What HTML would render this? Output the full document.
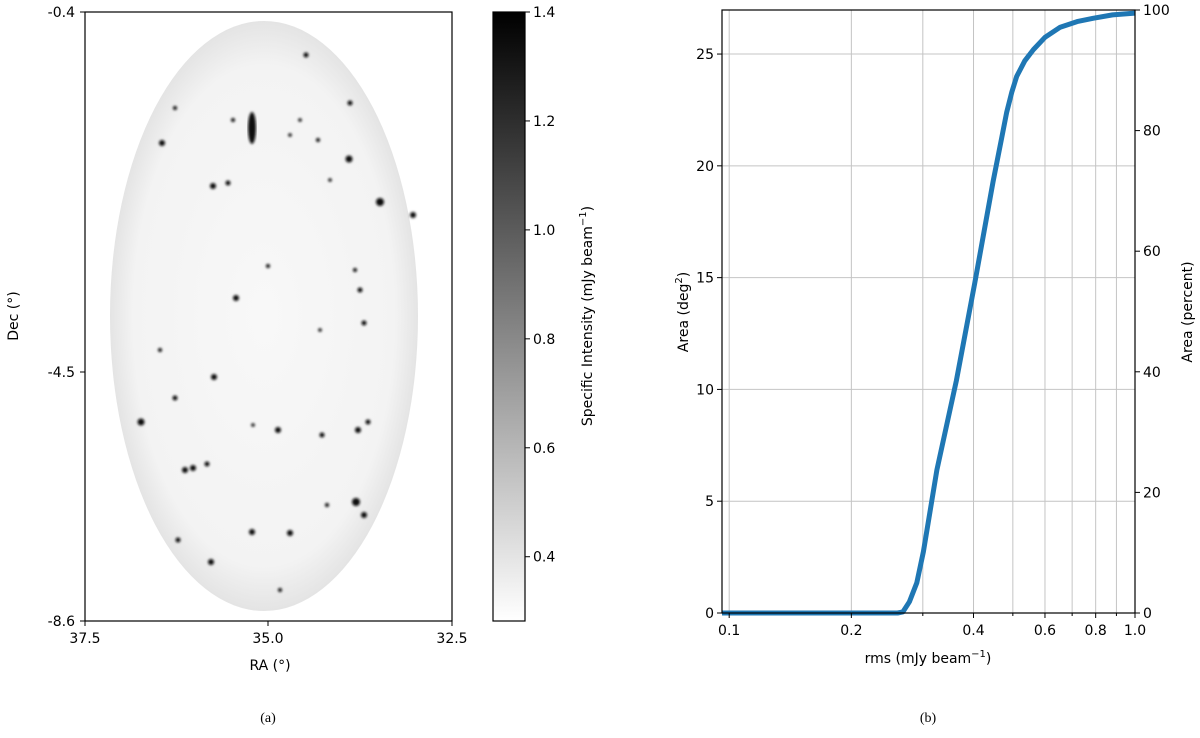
<!DOCTYPE html>
<html><head><meta charset="utf-8"><style>
body{margin:0;background:#fff;}
svg{display:block;font-family:"DejaVu Sans","Liberation Sans",sans-serif;}
</style></head><body>
<svg id="fig" width="1200" height="738" viewBox="0 0 1200 738">
<defs>
<linearGradient id="cbar" x1="0" y1="1" x2="0" y2="0">
<stop offset="0" stop-color="#ffffff"/><stop offset="1" stop-color="#000000"/>
</linearGradient>
<radialGradient id="ell" cx="0.5" cy="0.5" r="0.5">
<stop offset="0" stop-color="#f8f8f8"/><stop offset="0.85" stop-color="#f3f3f3"/><stop offset="1" stop-color="#e4e4e4"/>
</radialGradient>
<filter id="blur"><feGaussianBlur stdDeviation="1.2"/></filter>
</defs>
<g id="left">
<ellipse cx="264" cy="316" rx="154" ry="295" fill="url(#ell)"/>
<g id="dots" filter="url(#blur)"></g>
<ellipse cx="252" cy="128" rx="4" ry="16" fill="#111" filter="url(#blur)"/>
<rect x="85" y="12" width="367" height="609" fill="none" stroke="#000" stroke-width="1.2"/>
<g font-size="14" fill="#000">
<text x="75" y="17" text-anchor="end">-0.4</text>
<text x="75" y="377" text-anchor="end">-4.5</text>
<text x="75" y="626" text-anchor="end">-8.6</text>
<line x1="80" y1="12" x2="85" y2="12" stroke="#000"/><line x1="80" y1="372" x2="85" y2="372" stroke="#000"/><line x1="80" y1="621" x2="85" y2="621" stroke="#000"/>
<line x1="85" y1="621" x2="85" y2="626" stroke="#000"/><line x1="268" y1="621" x2="268" y2="626" stroke="#000"/><line x1="452" y1="621" x2="452" y2="626" stroke="#000"/>
<text x="85" y="643" text-anchor="middle">37.5</text>
<text x="268" y="643" text-anchor="middle">35.0</text>
<text x="452" y="643" text-anchor="middle">32.5</text>
<text x="270" y="670" text-anchor="middle">RA (°)</text>
<text transform="translate(18,316) rotate(-90)" text-anchor="middle">Dec (°)</text>
</g>
<rect x="493" y="12" width="32" height="609" fill="url(#cbar)" stroke="#000" stroke-width="1.2"/>
<g id="cbticks" font-size="14"></g>
<text transform="translate(592,316) rotate(-90)" text-anchor="middle" font-size="14">Specific Intensity (mJy beam<tspan dy="-6" font-size="10">−1</tspan><tspan dy="6">)</tspan></text>
<text x="268" y="722" text-anchor="middle" font-size="14" font-family="'Liberation Serif',serif">(a)</text>
</g>
<g id="right">
<g id="grid"></g>
<path id="curve" fill="none" stroke="#1f77b4" stroke-width="5" stroke-linejoin="round"/>
<rect x="722" y="10" width="413" height="603" fill="none" stroke="#000" stroke-width="1.2"/>
<g id="axes" font-size="14"></g>
<text x="928" y="663" text-anchor="middle" font-size="14">rms (mJy beam<tspan dy="-6" font-size="10">−1</tspan><tspan dy="6">)</tspan></text>
<text transform="translate(688,312) rotate(-90)" text-anchor="middle" font-size="14">Area (deg<tspan dy="-6" font-size="10">2</tspan><tspan dy="6">)</tspan></text>
<text transform="translate(1192,312) rotate(-90)" text-anchor="middle" font-size="14">Area (percent)</text>
<text x="928" y="722" text-anchor="middle" font-size="14" font-family="'Liberation Serif',serif">(b)</text>
</g>
</svg>
<script>
const rmsValues=[0.096,0.2,0.26,0.268,0.278,0.29,0.301,0.325,0.363,0.403,0.447,0.47,0.483,0.497,0.511,0.535,0.562,0.6,0.654,0.72,0.788,0.88,1.0];
const areaValues=[0,0,0,0.05,0.5,1.35,2.74,6.4,10.4,14.77,19.3,21.3,22.4,23.3,24.0,24.7,25.2,25.75,26.2,26.45,26.6,26.75,26.83];
const leftTicks=[0,5,10,15,20,25];
const rightTicks=[0,20,40,60,80,100];
const xMajorTicks=[0.1,0.2,0.4,0.6,0.8,1.0];
const xGridTicks=[0.1,0.2,0.3,0.4,0.5,0.6,0.7,0.8,0.9,1.0];
const cbarTicks=[0.4,0.6,0.8,1.0,1.2,1.4];
const NS='http://www.w3.org/2000/svg';
const X0=722,X1=1135,Y0=613,Y1=10,XMIN=0.096,XMAX=1.0,YMAX=26.97;
function xs(v){return X0+(Math.log10(v)-Math.log10(XMIN))/(Math.log10(XMAX)-Math.log10(XMIN))*(X1-X0);}
function ys(v){return Y0-v/YMAX*(Y0-Y1);}
function yp(p){return ys(p/100*YMAX);}
function mk(tag,attrs,parent){const e=document.createElementNS(NS,tag);for(const k in attrs)e.setAttribute(k,attrs[k]);parent.appendChild(e);return e;}
const grid=document.getElementById('grid'),axes=document.getElementById('axes');
xGridTicks.forEach(v=>{const l=mk('line',{x1:xs(v),x2:xs(v),y1:Y1,y2:Y0,stroke:'#c4c4c4','stroke-width':1},grid);


mk('line',{x1:xs(v),x2:xs(v),y1:Y0,y2:Y0+(xMajorTicks.includes(v)?5:3),stroke:'#000'},axes);});
leftTicks.forEach(v=>{const l=mk('line',{x1:X0,x2:X1,y1:ys(v),y2:ys(v),stroke:'#c4c4c4','stroke-width':1},grid);


mk('line',{x1:X0-5,x2:X0,y1:ys(v),y2:ys(v),stroke:'#000'},axes);
const t=mk('text',{x:X0-8,y:ys(v)+5,'text-anchor':'end'},axes);t.textContent=v;

});
rightTicks.forEach(v=>{mk('line',{x1:X1,x2:X1+5,y1:yp(v),y2:yp(v),stroke:'#000'},axes);
const t=mk('text',{x:X1+8,y:yp(v)+5,'text-anchor':'start'},axes);t.textContent=v;

});
xMajorTicks.forEach(v=>{const t=mk('text',{x:xs(v),y:Y0+22,'text-anchor':'middle'},axes);t.textContent=v.toFixed(1);

});
document.getElementById('curve').setAttribute('d',rmsValues.map((v,i)=>(i?'L':'M')+xs(v).toFixed(1)+','+ys(areaValues[i]).toFixed(1)).join(' '));
const CB0=621,CBMIN=0.282,CBMAX=1.4,cb=document.getElementById('cbticks');
function cy(v){return CB0-(v-CBMIN)/(CBMAX-CBMIN)*(621-12);}
cbarTicks.forEach(v=>{mk('line',{x1:525,x2:530,y1:cy(v),y2:cy(v),stroke:'#000'},cb);
const t=mk('text',{x:533,y:cy(v)+5},cb);t.textContent=v.toFixed(1);

});
const srcX=[162,213,228,349,380,413,185,175,141,236,214,278,193,207,322,358,368,356,290,252,211,178,306,350,360,364,160,327,280,355,175,233,268,318,364,290,320,253,330,300];
const srcY=[143,186,183,159,202,215,470,398,422,298,377,430,468,464,435,430,422,502,533,532,562,540,55,103,290,323,350,505,590,270,108,120,266,140,515,135,330,425,180,120];
const srcR=[3,3,2.5,3.5,4,3,3,2.5,3.5,3,3,3,3,2.5,2.5,3,2.5,4,3,3,3,2.5,2.5,2.5,2.5,2.5,2,2,2,2,2,2,2,2,3,1.8,1.8,1.8,1.8,1.8];
const dots=document.getElementById('dots');
srcX.forEach((x,i)=>{const c=mk('circle',{cx:x,cy:srcY[i],r:srcR[i],fill:'#111'},dots);

});
</script>
</body></html>
